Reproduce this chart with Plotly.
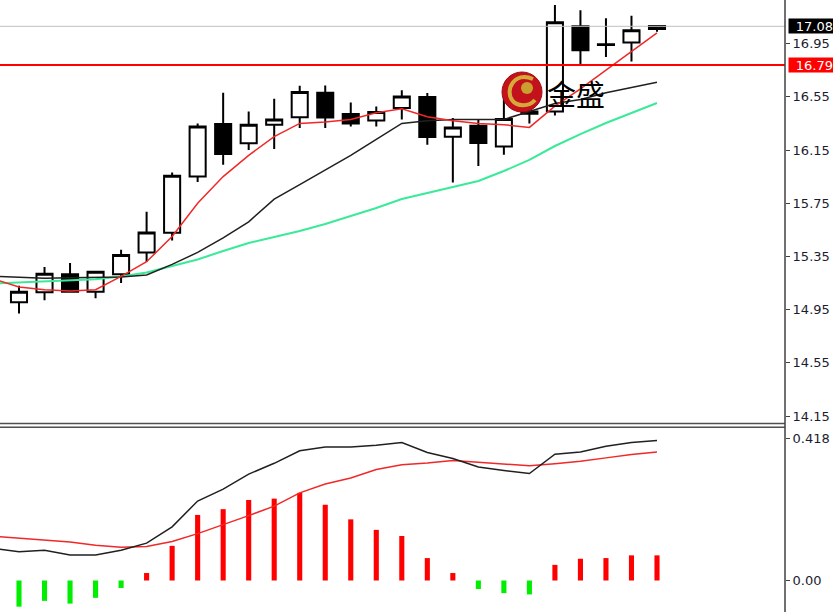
import plotly.graph_objects as go

# ---------------- data ----------------
idx = list(range(1, 27))
open_ = [15.005, 15.08, 15.216, 15.085, 15.216, 15.38, 15.527, 15.95, 16.345, 16.20,
         16.34, 16.397, 16.58, 16.42, 16.372, 16.465, 16.548, 16.25, 16.332, 16.176,
         16.44, 16.44, 17.08, 16.945, 16.959, 17.06]
close = [15.085, 15.22, 15.085, 15.235, 15.36, 15.53, 15.956, 16.327, 16.12, 16.34,
         16.38, 16.586, 16.395, 16.35, 16.435, 16.552, 16.247, 16.32, 16.202, 16.383,
         16.422, 17.11, 16.90, 16.94, 17.05, 17.083]
high = [15.13, 15.27, 15.30, 15.24, 15.40, 15.685, 15.98, 16.35, 16.58, 16.44,
        16.535, 16.633, 16.635, 16.507, 16.477, 16.60, 16.578, 16.39, 16.38, 16.56,
        16.50, 17.24, 17.20, 17.14, 17.16, 17.083]
low = [14.92, 15.02, 15.08, 15.035, 15.15, 15.31, 15.47, 15.91, 16.04, 16.15,
       16.157, 16.315, 16.315, 16.327, 16.327, 16.38, 16.19, 15.905, 16.03, 16.114,
       16.35, 16.41, 16.79, 16.85, 16.816, 17.04]

ma_idx = list(range(0, 27))
ma_red = [15.18, 15.12, 15.10, 15.09, 15.10, 15.20, 15.31, 15.50, 15.75, 15.95,
          16.11, 16.25, 16.35, 16.36, 16.38, 16.43, 16.46, 16.40, 16.37, 16.35,
          16.34, 16.32, 16.48, 16.61, 16.75, 16.89, 17.03]
ma_black = [15.20, 15.19, 15.185, 15.19, 15.19, 15.195, 15.21, 15.29, 15.38, 15.49,
            15.61, 15.78, 15.89, 16.00, 16.11, 16.23, 16.35, 16.37, 16.38, 16.38,
            16.38, 16.44, 16.50, 16.53, 16.58, 16.62, 16.66]
ma_green = [15.146, 15.154, 15.161, 15.173, 15.178, 15.199, 15.229, 15.278, 15.327, 15.391,
            15.451, 15.496, 15.541, 15.594, 15.654, 15.714, 15.782, 15.827, 15.872, 15.917,
            15.992, 16.075, 16.18, 16.27, 16.353, 16.428, 16.503]

dif = [0.094, 0.085, 0.089, 0.075, 0.075, 0.089, 0.11, 0.158, 0.234, 0.269, 0.313,
       0.345, 0.382, 0.393, 0.393, 0.398, 0.406, 0.377, 0.359, 0.334, 0.324, 0.315,
       0.372, 0.378, 0.395, 0.406, 0.412]
dea = [0.13, 0.124, 0.12, 0.113, 0.104, 0.098, 0.1, 0.115, 0.138, 0.164, 0.191,
       0.219, 0.258, 0.284, 0.302, 0.327, 0.341, 0.346, 0.353, 0.348, 0.343, 0.338,
       0.344, 0.351, 0.361, 0.371, 0.378]
hist = [-0.077, -0.06, -0.068, -0.051, -0.022, 0.022, 0.102, 0.193, 0.21, 0.237,
        0.241, 0.258, 0.223, 0.18, 0.149, 0.131, 0.066, 0.022, -0.025, -0.037,
        -0.041, 0.046, 0.064, 0.066, 0.074, 0.074]

price_ticks = [14.15, 14.55, 14.95, 15.35, 15.75, 16.15, 16.55, 16.95]
price_tick_text = ["14.15", "14.55", "14.95", "15.35", "15.75", "16.15", "16.55", "16.95"]
macd_ticks = [0.0, 0.418]
macd_tick_text = ["0.00", "0.418"]
last_price = 17.08
level_price = 16.79

# ---------------- figure ----------------
W, H = 833, 612
PW = 785  # plot area width in px

def px_x(p):
    return p / PW

def px_y(p):
    return 1 - p / H

fig = go.Figure()

fig.add_trace(go.Scatter(x=ma_idx, y=ma_green, mode="lines",
                         line=dict(color="#3aea98", width=2), xaxis="x", yaxis="y",
                         hoverinfo="skip"))
fig.add_trace(go.Scatter(x=ma_idx, y=ma_black, mode="lines",
                         line=dict(color="#202020", width=1.5), xaxis="x", yaxis="y",
                         hoverinfo="skip"))
fig.add_trace(go.Scatter(x=ma_idx, y=ma_red, mode="lines",
                         line=dict(color="#f02828", width=1.5), xaxis="x", yaxis="y",
                         hoverinfo="skip"))
fig.add_trace(go.Candlestick(
    x=idx, open=open_, high=high, low=low, close=close,
    increasing=dict(line=dict(color="black", width=2), fillcolor="white"),
    decreasing=dict(line=dict(color="black", width=2), fillcolor="black"),
    whiskerwidth=0, xaxis="x", yaxis="y"))

bar_colors = ["#ff0000" if v >= 0 else "#00ee00" for v in hist]
fig.add_trace(go.Bar(x=idx, y=hist, marker=dict(color=bar_colors, line=dict(width=0)),
                     width=0.2, xaxis="x2", yaxis="y2", hoverinfo="skip"))
fig.add_trace(go.Scatter(x=ma_idx, y=dea, mode="lines",
                         line=dict(color="#f02828", width=1.5), xaxis="x2", yaxis="y2",
                         hoverinfo="skip"))
fig.add_trace(go.Scatter(x=ma_idx, y=dif, mode="lines",
                         line=dict(color="#202020", width=1.5), xaxis="x2", yaxis="y2",
                         hoverinfo="skip"))

xr = [1 - 19 / 25.52, 1 + (PW - 19) / 25.52]
top_range = [14.15 - 8 / 133.0, 14.15 + 416 / 133.0]
bot_range = [-(612 - 580.5) / 339.7, (580.5 - 428) / 339.7]

tickfont = dict(family="DejaVu Sans", size=13, color="#1c1c30")

shapes = [
    dict(type="line", xref="paper", yref="y", x0=0, x1=1, y0=last_price, y1=last_price,
         line=dict(color="#c0c0c0", width=1)),
    dict(type="line", xref="paper", yref="y", x0=0, x1=1, y0=level_price, y1=level_price,
         line=dict(color="#ff0000", width=2)),
    dict(type="line", xref="paper", yref="paper", x0=0, x1=1, y0=px_y(423.5), y1=px_y(423.5),
         line=dict(color="#505050", width=1.5)),
    dict(type="line", xref="paper", yref="paper", x0=0, x1=1, y0=px_y(427.2), y1=px_y(427.2),
         line=dict(color="#505050", width=1.5)),
    dict(type="line", xref="paper", yref="paper", x0=1, x1=1, y0=0, y1=1,
         line=dict(color="#404040", width=1.5)),
    dict(type="circle", xref="paper", yref="paper", x0=px_x(502), x1=px_x(542),
         y0=px_y(112), y1=px_y(72), fillcolor="#c4121c", line=dict(color="#a00c14", width=1)),
    dict(type="path", xref="paper", yref="paper",
         path=(f"M {px_x(533)},{px_y(79)} C {px_x(514)},{px_y(71)} {px_x(505)},{px_y(90)} "
               f"{px_x(512)},{px_y(100)} C {px_x(517)},{px_y(107)} {px_x(529)},{px_y(107)} "
               f"{px_x(535)},{px_y(100)}"),
         line=dict(color="#d6aa3a", width=4)),
    dict(type="circle", xref="paper", yref="paper", x0=px_x(521), x1=px_x(533),
         y0=px_y(94), y1=px_y(82), fillcolor="#c9a030", line=dict(width=0)),
]

annotations = [
    dict(xref="paper", yref="y", x=1, y=last_price, xanchor="left", yanchor="middle", xshift=3,
         text="17.08", showarrow=False, bgcolor="#000000", width=44, height=14,
         align="right", borderpad=0,
         font=dict(family="DejaVu Sans", size=13, color="white")),
    dict(xref="paper", yref="y", x=1, y=level_price, xanchor="left", yanchor="middle", xshift=3,
         text="16.79", showarrow=False, bgcolor="#ff0000", width=44, height=14,
         align="right", borderpad=0,
         font=dict(family="DejaVu Sans", size=13, color="white")),
    dict(xref="paper", yref="paper", x=px_x(576), y=px_y(93), xanchor="center",
         yanchor="middle", text="金盛", showarrow=False,
         font=dict(family="Noto Sans CJK SC", size=29, color="#000000")),
]

fig.update_layout(
    width=W, height=H,
    margin=dict(l=0, r=W - PW, t=0, b=0),
    paper_bgcolor="white", plot_bgcolor="white",
    showlegend=False,
    boxgap=0.37, boxgroupgap=0,
    xaxis=dict(domain=[0, 1], range=xr, visible=False, rangeslider=dict(visible=False),
               anchor="y", fixedrange=True),
    yaxis=dict(domain=[px_y(424), 1], range=top_range, side="right", anchor="x",
               showgrid=False, zeroline=False, showline=False,
               ticks="outside", ticklen=4, tickwidth=1, tickcolor="#404040",
               tickvals=price_ticks, ticktext=price_tick_text, tickfont=tickfont),
    xaxis2=dict(domain=[0, 1], range=xr, visible=False, anchor="y2", matches="x"),
    yaxis2=dict(domain=[0, px_y(428)], range=bot_range, side="right", anchor="x2",
                showgrid=False, zeroline=False, showline=False,
                ticks="outside", ticklen=4, tickwidth=1, tickcolor="#404040",
                tickvals=macd_ticks, ticktext=macd_tick_text, tickfont=tickfont),
    shapes=shapes,
    annotations=annotations,
    hovermode=False,
)

fig.write_html("out.html", config={"displayModeBar": False},
               post_script="document.body.style.margin='0';document.body.style.padding='0';")
